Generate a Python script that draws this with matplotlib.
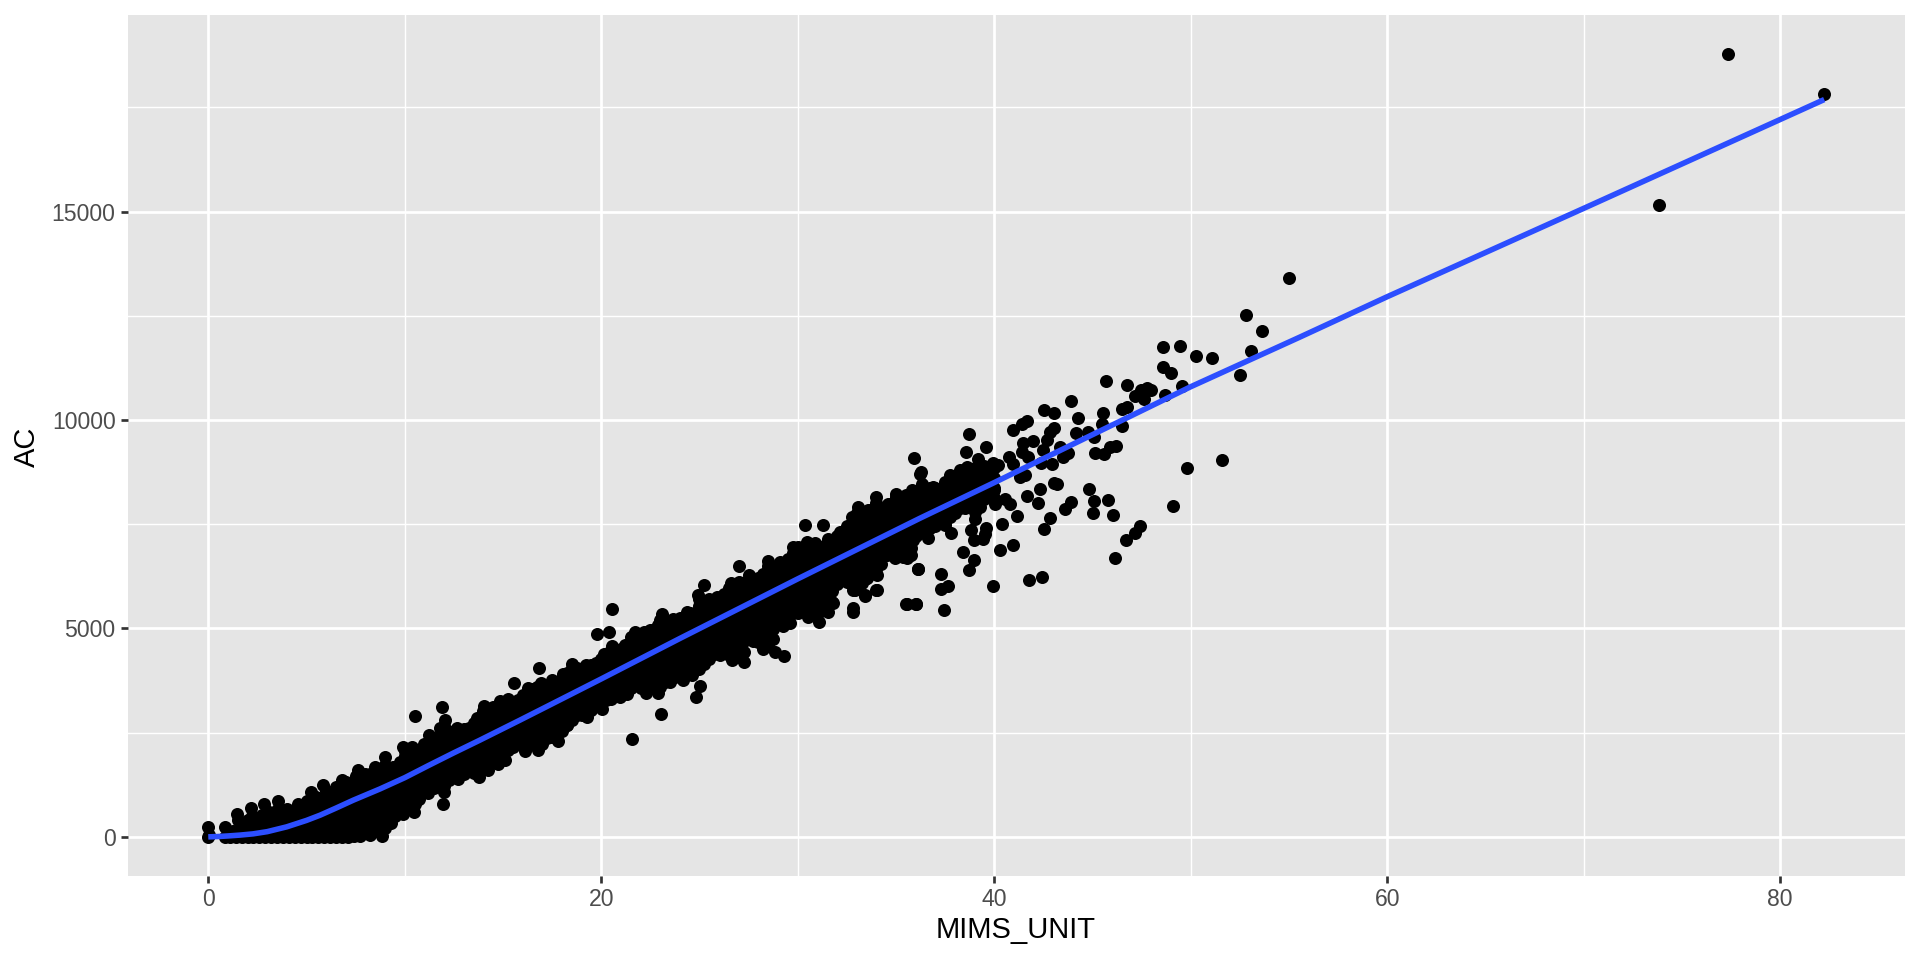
"""
MIMS_UNIT vs AC scatter with a smooth line, ggplot look.
Values are read off the reference picture.
"""

import matplotlib
matplotlib.use("Agg")
import matplotlib.pyplot as plt

plt.rcParams["font.family"] = ["Liberation Sans", "DejaVu Sans"]

# points sitting on the floor of the cloud, AC close to zero
floor_mims = [0.0, 0.02, 0.0, 0.85, 1.1, 1.4, 1.7, 2.0, 2.3, 2.6, 2.9, 3.2, 3.5, 3.8, 4.1, 4.4, 4.7, 5.0, 5.3,
              5.6, 5.9, 6.2, 6.5, 6.8, 7.1, 7.4, 8.23, 8.82, 7.7]
floor_ac = [0, 50, 240, 0, 0, 0, 0, 0, 0, 0, 0, 0, 0, 0, 0, 0, 0, 0, 0,
            0, 0, 0, 0, 0, 0, 20, 40, 17, 30]

# top edge of the cloud
upper_mims = [0.85, 1.44, 2.17, 2.82, 3.53, 4.58, 5.21, 5.85, 6.79, 7.63, 8.48, 8.98, 9.42, 9.92, 10.35, 10.54,
              11.25, 11.79, 11.91, 12.04, 12.64, 13.66, 14.03, 14.84, 15.27, 15.57, 16.29, 16.83, 16.92, 17.48,
              18.07, 18.49, 19.21, 19.78, 20.14, 20.38, 20.53, 20.55, 21.21, 21.72, 22.17, 22.9, 23.07, 23.66,
              24.34, 24.94, 25.22, 25.87, 26.6, 27.0, 27.53, 28.24, 28.5, 29.09, 29.77, 30.36, 30.45, 30.87,
              31.26, 31.55, 32.15, 32.74, 33.05, 33.59, 33.96, 34.6, 35.02, 35.79, 35.94, 36.26, 36.3, 36.89,
              37.74, 38.25, 38.57, 38.59, 38.69, 39.18, 39.59, 39.94, 40.2]
upper_ac = [232, 544, 696, 785, 849, 777, 1065, 1233, 1360, 1600, 1680, 1905, 1680, 2160, 2160, 2888,
            2433, 2600, 3120, 2800, 2600, 2840, 3136, 3256, 3296, 3680, 3583, 4055, 3695, 3759,
            3903, 4159, 4119, 4863, 4399, 4911, 4583, 5471, 4599, 4918, 4918, 5078, 5358, 5238,
            5398, 5798, 6054, 5758, 6094, 6502, 6278, 6318, 6622, 6598, 6958, 7478, 7078, 7054,
            7494, 7158, 7318, 7678, 7918, 7838, 8150, 7996, 8236, 8332, 9084, 8756, 8476, 8396,
            8676, 8796, 9244, 8876, 9660, 9076, 9364, 8980, 8916]

# bottom edge of the cloud
lower_mims = [9.28, 9.89, 10.47, 11.2, 11.96, 11.99, 12.72, 13.79, 14.22, 14.76, 15.12, 16.12, 16.78, 17.82, 18.24,
              19.26, 20.02, 20.95, 21.29, 21.58, 22.27, 22.31, 22.9, 23.02, 24.17, 24.6, 24.8, 25.02, 26.04,
              26.67, 27.29, 27.74, 28.24, 28.58, 28.84, 29.26, 29.3, 29.6, 30.53, 31.09, 31.21, 31.55, 31.81,
              31.98, 32.82, 32.82, 32.82, 33.42, 33.5, 34.01, 34.05, 34.86, 34.94, 35.36, 35.54, 35.74, 35.88,
              36.1]
lower_ac = [340, 550, 600, 1041, 777, 1080, 1400, 1430, 1600, 1743, 1850, 2063, 2095, 2295, 2679,
            2879, 3079, 3358, 3423, 2359, 3454, 3559, 3462, 2958, 3774, 3878, 3358, 3614, 4358,
            4238, 4190, 4694, 4518, 5014, 4438, 5062, 4342, 5134, 5278, 5158, 5758, 5398, 5614,
            6078, 5502, 5398, 5918, 5798, 6214, 6294, 5918, 6998, 6702, 6716, 6702, 6758, 7118,
            6438]

# loose points right of the dense part
loose_mims = [32.9, 33.41, 33.41, 34.0, 34.0, 34.52, 35.53, 35.55, 35.7, 36.01, 36.0, 36.13, 36.22, 36.64, 37.3,
              37.31, 37.43, 37.48, 37.65, 37.79, 38.4, 38.71, 38.84, 38.96, 38.96, 39.01, 39.1, 39.44, 39.52,
              39.6, 39.96, 39.99, 40.03, 40.27, 40.4, 40.54, 40.76, 40.79, 40.93, 40.95, 40.96, 41.17, 41.3,
              41.39, 41.42, 41.47, 41.56, 41.69, 41.69, 41.73, 41.79, 41.95, 42.23, 42.32, 42.4, 42.44, 42.49,
              42.51, 42.52, 42.66, 42.83, 42.86, 42.95, 43.03, 43.03, 43.03, 43.2, 43.34, 43.51, 43.59, 43.76,
              43.9, 43.9, 44.17, 44.24, 44.76, 44.8, 45.02, 45.07, 45.08, 45.15, 45.49, 45.51, 45.58, 45.68,
              45.8, 45.88, 46.03, 46.14, 46.22, 46.48, 46.51, 46.73, 46.75, 46.76, 47.15, 47.15, 47.44, 47.49,
              47.61, 47.75, 48.0, 48.6, 48.61, 48.68, 49.02, 49.12, 49.43, 49.55, 49.8, 50.26, 51.07, 51.58,
              52.5, 52.79, 53.09, 53.63, 55.0, 73.82, 77.34, 82.24]
loose_ac = [5916, 5780, 6196, 6300, 5916, 6756, 5580, 5598, 6756, 5580, 5582, 6420, 8718, 7172, 6300,
            5956, 5452, 7476, 6020, 7300, 6844, 6396, 7372, 6652, 7132, 7636, 8076, 7156, 7276,
            7412, 6020, 8316, 7996, 6892, 7508, 8116, 9116, 7980, 6996, 9764, 8956, 7700, 8636,
            9236, 9916, 9460, 8676, 8180, 9988, 9116, 6156, 9492, 8020, 8356, 8980, 6236, 9276,
            7380, 10252, 9516, 9716, 7660, 8956, 10164, 9820, 8492, 8476, 9356, 9116, 7860, 9220,
            10468, 8036, 9684, 10060, 9716, 8348, 7780, 8060, 9596, 9212, 9900, 10164, 9180, 10940,
            8092, 9356, 7716, 6700, 9380, 10276, 9852, 7132, 10852, 10316, 10580, 7292, 7452, 10716,
            10516, 10780, 10732, 11748, 11268, 10596, 11140, 7940, 11772, 10812, 8844, 11540, 11500, 9036,
            11092, 12524, 11668, 12140, 13412, 15156, 18786, 17812]

# inside of the cloud, AC values read column by column along MIMS_UNIT
band_mims = [1.0, 1.5, 2.0, 2.5, 3.0, 3.5, 4.0, 4.5, 5.0, 5.5, 6.0, 6.5, 7.0, 7.5, 8.0, 8.5, 9.0, 9.5, 10.0, 10.5,
             11.0, 11.5, 12.0, 12.5, 13.0, 13.5, 14.0, 14.5, 15.0, 15.5, 16.0, 16.5, 17.0, 17.5, 18.0, 18.5,
             19.0, 19.5, 20.0, 20.5, 21.0, 21.5, 22.0, 22.5, 23.0, 23.5, 24.0, 24.5, 25.0, 25.5, 26.0, 26.5,
             27.0, 27.5, 28.0, 28.5, 29.0, 29.5, 30.0, 30.5, 31.0, 31.5, 32.0, 32.5, 33.0, 33.5, 34.0, 34.5,
             35.0, 35.5, 36.0, 36.5, 37.0, 37.5, 38.0, 38.5, 39.0, 39.5, 40.0]
band_ac = [
    [120], [150, 400], [150, 400], [200, 450], [170, 420, 620], [200, 450, 650], [180, 430, 680],
    [200, 450, 680], [170, 420, 670, 860], [200, 450, 700, 950], [170, 420, 670, 920, 1100],
    [200, 450, 700, 950, 1200], [170, 420, 670, 920, 1170, 1320], [200, 450, 700, 950, 1200, 1450],
    [170, 420, 670, 920, 1170, 1420, 1520], [150, 400, 650, 900, 1150, 1400, 1600],
    [220, 470, 720, 970, 1220, 1470, 1720], [500, 750, 1000, 1250, 1500, 1680],
    [680, 930, 1180, 1430, 1680, 1930, 2060], [780, 1030, 1280, 1530, 1780, 2030],
    [1120, 1370, 1620, 1870, 2120, 2230], [1180, 1430, 1680, 1930, 2180, 2380],
    [1230, 1480, 1730, 1980, 2230, 2480, 2650], [1450, 1700, 1950, 2200, 2450, 2550],
    [1520, 1770, 2020, 2270, 2520, 2580], [1540, 1790, 2040, 2290, 2540, 2720],
    [1660, 1910, 2160, 2410, 2660, 2900, 3020], [1800, 2050, 2300, 2550, 2800, 3050, 3120],
    [1950, 2200, 2450, 2700, 2950, 3170], [2150, 2400, 2650, 2900, 3150, 3220],
    [2170, 2420, 2670, 2920, 3170, 3400], [2220, 2470, 2720, 2970, 3220, 3470, 3540],
    [2240, 2490, 2740, 2990, 3240, 3490, 3620], [2400, 2650, 2900, 3150, 3400, 3650],
    [2550, 2800, 3050, 3300, 3550, 3780], [2800, 3050, 3300, 3550, 3800, 4050],
    [2930, 3180, 3430, 3680, 3930, 4030], [3050, 3300, 3550, 3800, 4050, 4120],
    [3170, 3420, 3670, 3920, 4170, 4260], [3300, 3550, 3800, 4050, 4300, 4480],
    [3460, 3710, 3960, 4210, 4460, 4510], [3560, 3810, 4060, 4310, 4560, 4800],
    [3560, 3810, 4060, 4310, 4560, 4800], [3610, 3860, 4110, 4360, 4610, 4860, 4960],
    [3600, 3850, 4100, 4350, 4600, 4850, 5100, 5200], [3720, 3970, 4220, 4470, 4720, 4970, 5120],
    [3880, 4130, 4380, 4630, 4880, 5130, 5260], [3990, 4240, 4490, 4740, 4990, 5240, 5360],
    [4030, 4280, 4530, 4780, 5030, 5280, 5530, 5700], [4260, 4510, 4760, 5010, 5260, 5510, 5710],
    [4460, 4710, 4960, 5210, 5460, 5710], [4370, 4620, 4870, 5120, 5370, 5620, 5870, 5960],
    [4320, 4570, 4820, 5070, 5320, 5570, 5820, 6070, 6120], [4760, 5010, 5260, 5510, 5760, 6010, 6190],
    [4680, 4930, 5180, 5430, 5680, 5930, 6180, 6210], [4620, 4870, 5120, 5370, 5620, 5870, 6120, 6370, 6500],
    [5120, 5370, 5620, 5870, 6120, 6370, 6500], [5240, 5490, 5740, 5990, 6240, 6490, 6660],
    [5360, 5610, 5860, 6110, 6360, 6610, 6860, 6960], [5400, 5650, 5900, 6150, 6400, 6650, 6900, 6990],
    [5320, 5570, 5820, 6070, 6320, 6570, 6820, 6990], [5520, 5770, 6020, 6270, 6520, 6770, 7020, 7060],
    [6160, 6410, 6660, 6910, 7160, 7230], [6110, 6360, 6610, 6860, 7110, 7360, 7450],
    [5970, 6220, 6470, 6720, 6970, 7220, 7470, 7780], [6310, 6560, 6810, 7060, 7310, 7560, 7760],
    [6420, 6670, 6920, 7170, 7420, 7670, 7920, 8000], [6860, 7110, 7360, 7610, 7860, 7920],
    [6820, 7070, 7320, 7570, 7820, 8070, 8150], [6810, 7060, 7310, 7560, 7810, 8060, 8210],
    [7210, 7460, 7710, 7960, 8210, 8300], [7280, 7530, 7780, 8030, 8280, 8360],
    [7460, 7710, 7960, 8210, 8360], [7560, 7810, 8060, 8310, 8510], [7760, 8010, 8260, 8510, 8660],
    [7900, 8150, 8400, 8650, 8760], [7800, 8050, 8300, 8550, 8800, 8860], [8100, 8350, 8600, 8850, 8900],
    [8120, 8370, 8620, 8860],
]

# second pass between the columns above
mid_mims = [1.25, 1.75, 2.25, 2.75, 3.25, 3.75, 4.25, 4.75, 5.25, 5.75, 6.25, 6.75, 7.25, 7.75, 8.25, 8.75, 9.25,
            9.75, 10.25, 10.75, 11.25, 11.75, 12.25, 12.75, 13.25, 13.75, 14.25, 14.75, 15.25, 15.75, 16.25,
            16.75, 17.25, 17.75, 18.25, 18.75, 19.25, 19.75, 20.25, 20.75, 21.25, 21.75, 22.25, 22.75, 23.25,
            23.75, 24.25, 24.75, 25.25, 25.75, 26.25, 26.75, 27.25, 27.75, 28.25, 28.75, 29.25, 29.75, 30.25,
            30.75, 31.25, 31.75, 32.25, 32.75, 33.25, 33.75, 34.25, 34.75, 35.25, 35.75, 36.25, 36.75, 37.25,
            37.75, 38.25, 38.75, 39.25, 39.75]
mid_ac = [
    [130], [275], [275, 500], [325, 520], [295, 545], [325, 575], [305, 555], [325, 575],
    [295, 545, 795], [325, 575, 825], [295, 545, 795, 1045], [325, 575, 825, 1075],
    [295, 545, 795, 1045, 1295], [325, 575, 825, 1075, 1325], [295, 545, 795, 1045, 1295, 1500],
    [275, 525, 775, 1025, 1275, 1525], [345, 595, 845, 1095, 1345, 1595], [625, 875, 1125, 1375, 1625, 1800],
    [805, 1055, 1305, 1555, 1805, 2040], [905, 1155, 1405, 1655, 1905, 2090], [1245, 1495, 1745, 1995, 2245],
    [1305, 1555, 1805, 2055, 2305], [1355, 1605, 1855, 2105, 2355, 2520], [1575, 1825, 2075, 2325, 2500],
    [1645, 1895, 2145, 2395, 2600], [1665, 1915, 2165, 2415, 2665], [1785, 2035, 2285, 2535, 2785, 3000],
    [1925, 2175, 2425, 2675, 2925, 3120], [2075, 2325, 2575, 2825, 3075], [2275, 2525, 2775, 3025, 3275],
    [2295, 2545, 2795, 3045, 3295, 3480], [2345, 2595, 2845, 3095, 3345, 3590],
    [2365, 2615, 2865, 3115, 3365, 3615], [2525, 2775, 3025, 3275, 3525, 3700],
    [2675, 2925, 3175, 3425, 3675, 3920], [2925, 3175, 3425, 3675, 3925, 4050],
    [3055, 3305, 3555, 3805, 4055], [3175, 3425, 3675, 3925, 4175], [3295, 3545, 3795, 4045, 4295],
    [3425, 3675, 3925, 4175, 4425], [3585, 3835, 4085, 4335, 4585], [3685, 3935, 4185, 4435, 4685],
    [3685, 3935, 4185, 4435, 4685, 4850], [3735, 3985, 4235, 4485, 4735, 4985],
    [3725, 3975, 4225, 4475, 4725, 4975, 5150], [3845, 4095, 4345, 4595, 4845, 5095],
    [4005, 4255, 4505, 4755, 5005, 5255], [4115, 4365, 4615, 4865, 5115, 5365],
    [4155, 4405, 4655, 4905, 5155, 5405, 5650], [4385, 4635, 4885, 5135, 5385, 5635],
    [4585, 4835, 5085, 5335, 5585, 5835], [4495, 4745, 4995, 5245, 5495, 5745, 5995],
    [4445, 4695, 4945, 5195, 5445, 5695, 5945, 6100], [4885, 5135, 5385, 5635, 5885, 6135],
    [4805, 5055, 5305, 5555, 5805, 6055, 6210], [4745, 4995, 5245, 5495, 5745, 5995, 6245, 6450],
    [5245, 5495, 5745, 5995, 6245, 6495], [5365, 5615, 5865, 6115, 6365, 6615, 6800],
    [5485, 5735, 5985, 6235, 6485, 6735, 6950], [5525, 5775, 6025, 6275, 6525, 6775, 6990],
    [5445, 5695, 5945, 6195, 6445, 6695, 6945], [5645, 5895, 6145, 6395, 6645, 6895, 7100],
    [6285, 6535, 6785, 7035, 7285], [6235, 6485, 6735, 6985, 7235, 7485],
    [6095, 6345, 6595, 6845, 7095, 7345, 7595], [6435, 6685, 6935, 7185, 7435, 7685, 7850],
    [6545, 6795, 7045, 7295, 7545, 7795], [6985, 7235, 7485, 7735, 7985],
    [6945, 7195, 7445, 7695, 7945, 8150], [6935, 7185, 7435, 7685, 7935, 8185],
    [7335, 7585, 7835, 8085, 8300], [7405, 7655, 7905, 8155, 8360], [7585, 7835, 8085, 8335],
    [7685, 7935, 8185, 8435, 8580], [7885, 8135, 8385, 8635], [8025, 8275, 8525, 8750],
    [7925, 8175, 8425, 8675, 8850], [8225, 8475, 8725, 8880],
]

# smooth line
smooth_mims = [0, 0.5, 1, 1.6, 2.28, 3, 3.99, 5, 5.69, 6.5, 7.38, 8.74, 10, 11.2, 12.47, 13.82, 15.86, 17.2, 20, 24,
               30, 32.65, 36.2, 40, 50, 55.55, 60, 70, 82.24]
smooth_ac = [0, 8, 22, 42, 72, 125, 240, 395, 520, 690, 880, 1150, 1420, 1710, 2010, 2320, 2800, 3120, 3790, 4760,
             6190, 6810, 7640, 8500, 10800, 11990, 12960, 15080, 17690]

x_major = [0, 20, 40, 60, 80]
x_minor = [10, 30, 50, 70]
y_major = [0, 5000, 10000, 15000]
y_minor = [2500, 7500, 12500, 17500]

fig = plt.figure(figsize=(9.6, 4.8), dpi=200)
ax = fig.add_axes([127.5 / 1920, 84 / 960, 1777.5 / 1920, 861 / 960], facecolor="#E5E5E5")

for name in ["top", "right", "bottom", "left"]:
    ax.spines[name].set_visible(False)

ax.set_xticks(x_major)
ax.set_yticks(y_major)
ax.set_xticks(x_minor, minor=True)
ax.set_yticks(y_minor, minor=True)
ax.grid(True, which="major", color="white", linewidth=0.97)
ax.grid(True, which="minor", color="white", linewidth=0.5)
ax.set_axisbelow(True)
ax.tick_params(which="major", length=2.5, width=0.97, color="#333333", labelcolor="#4D4D4D",
               labelsize=8.3, pad=1.8)
ax.tick_params(which="minor", length=0)

marker_size = 22
ax.scatter(floor_mims, floor_ac, s=marker_size, c="black", linewidths=0)
ax.scatter(upper_mims, upper_ac, s=marker_size, c="black", linewidths=0)
ax.scatter(lower_mims, lower_ac, s=marker_size, c="black", linewidths=0)
ax.scatter(loose_mims, loose_ac, s=marker_size, c="black", linewidths=0)
for mims, column in zip(band_mims, band_ac):
    ax.scatter([mims] * len(column), column, s=marker_size, c="black", linewidths=0)
for mims, column in zip(mid_mims, mid_ac):
    ax.scatter([mims] * len(column), column, s=marker_size, c="black", linewidths=0)

ax.plot(smooth_mims, smooth_ac, color="#2C4EFF", linewidth=2.0, solid_capstyle="butt", solid_joinstyle="round")

ax.set_xlim(-4.11, 86.35)
ax.set_ylim(-939, 19719)

fig.text(1016 / 1920, 1 - 930 / 960, "MIMS_UNIT", ha="center", va="center", fontsize=10.5, color="black")
fig.text(27 / 1920, 1 - 447 / 960, "AC", ha="center", va="center", rotation=90, fontsize=10.5, color="black")

fig.savefig("out.png", dpi=200)
plt.close(fig)
